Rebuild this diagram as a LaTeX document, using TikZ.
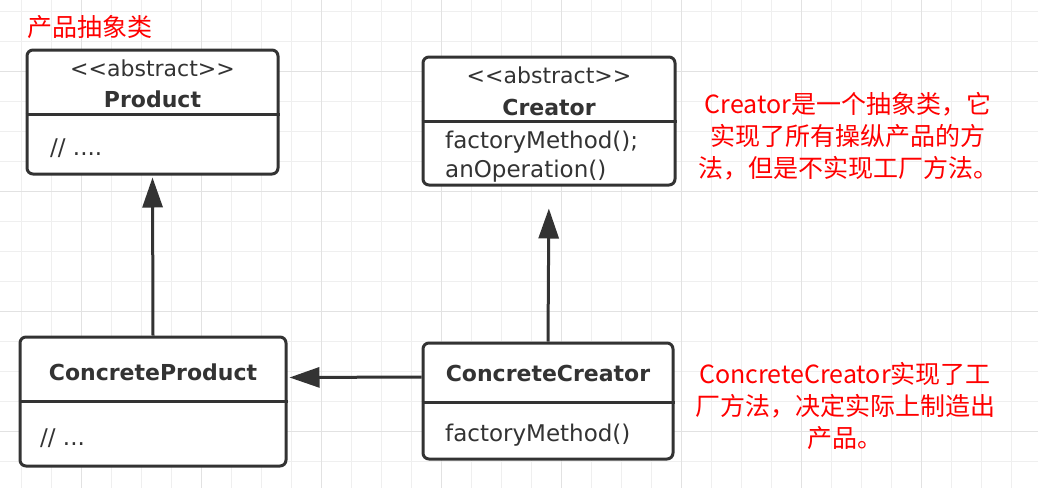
\documentclass[tikz,border=0pt]{standalone}
\usepackage{fontspec}
\setmainfont{DejaVu Sans}
\newfontfamily\cjk{Noto Sans CJK SC}
\usetikzlibrary{arrows.meta}
\definecolor{linegray}{HTML}{333333}
\definecolor{gridminor}{HTML}{EFEFEF}
\definecolor{gridmajor}{HTML}{E2E2E2}

\begin{document}
\begin{tikzpicture}[x=1pt,y=-1pt,
  classbox/.style={draw=linegray, line width=3pt, rounded corners=6pt, fill=white, inner sep=0pt},
  divider/.style={draw=linegray, line width=3pt},
  title/.style={font=\fontsize{22}{26}\selectfont\bfseries, text=linegray, anchor=base, inner sep=0pt},
  stereo/.style={font=\fontsize{22}{26}\selectfont, text=linegray, anchor=base, inner sep=0pt},
  member/.style={font=\fontsize{23}{28}\selectfont, text=linegray, anchor=base west, inner sep=0pt},
  note/.style={font=\cjk\fontsize{25}{32}\selectfont, text=red, align=center},
  inherit/.style={draw=linegray, line width=3pt, -{Triangle[length=30pt,width=20pt]}}]
\useasboundingbox (0,0) rectangle (1038,488);
\fill[white] (0,0) rectangle (1038,488);
% grid
\foreach \x in {21,51,...,1038} \draw[gridminor, line width=1pt] (\x,0) -- (\x,488);
\foreach \y in {11,41,...,488} \draw[gridminor, line width=1pt] (0,\y) -- (1038,\y);
\foreach \x in {81,201,...,1038} \draw[gridmajor, line width=1pt] (\x,0) -- (\x,488);
\foreach \y in {71,191,...,488} \draw[gridmajor, line width=1pt] (0,\y) -- (1038,\y);

% classes
\node[classbox, minimum width=251pt, minimum height=124pt] (product) at (152.5,112) {};
\draw[divider] ([yshift=-2pt]product.west) -- ([yshift=-2pt]product.east);
\node[stereo] (pstereo) at (152.5,76) {<\kern0pt<abstract>\kern0pt>};
\node[title] (pname) at (152.5,107) {Product};
\node[member] (pbody) at (50,155) {// ....};

\node[classbox, minimum width=252pt, minimum height=128pt] (creator) at (549,121) {};
\draw[divider] (creator.west) -- (creator.east);
\node[stereo] (cstereo) at (549,83) {<\kern0pt<abstract>\kern0pt>};
\node[title] (cname) at (549,115) {Creator};
\node[member] (cfactory) at (445,148) {factoryMethod();};
\node[member] (coperation) at (445,177) {anOperation()};

\node[classbox, minimum width=266pt, minimum height=129pt] (concprod) at (153,401.5) {};
\draw[divider] ([yshift=0.5pt]concprod.west) -- ([yshift=0.5pt]concprod.east);
\node[title] (cpname) at (153,380) {ConcreteProduct};
\node[member] (cpbody) at (40,445) {// ...};

\node[classbox, minimum width=250pt, minimum height=116pt] (concreator) at (548,401) {};
\draw[divider] ([yshift=-1pt]concreator.west) -- ([yshift=-1pt]concreator.east);
\node[title] (ccname) at (548,381) {ConcreteCreator};
\node[member] (ccfactory) at (445,441) {factoryMethod()};

% inheritance and dependency
\draw[inherit, shorten >=2pt] (concprod.north) -- (product.south);
\draw[inherit, shorten >=22pt] (concreator.north) -- (creator.south);
\draw[inherit, shorten >=2pt] ([yshift=24pt]concreator.west) -- ([yshift=24pt]concprod.east);

% notes
\node[note, anchor=west, inner sep=0pt] (prodnote) at (27,27) {产品抽象类};
\node[note] (creatornote) at (848,136) {Creator是一个抽象类，它\\实现了所有操纵产品的方\\法，但是不实现工厂方法。};
\node[note] (concnote) at (845,406) {ConcreteCreator实现了工\\厂方法，决定实际上制造出\\产品。};
\end{tikzpicture}
\end{document}
